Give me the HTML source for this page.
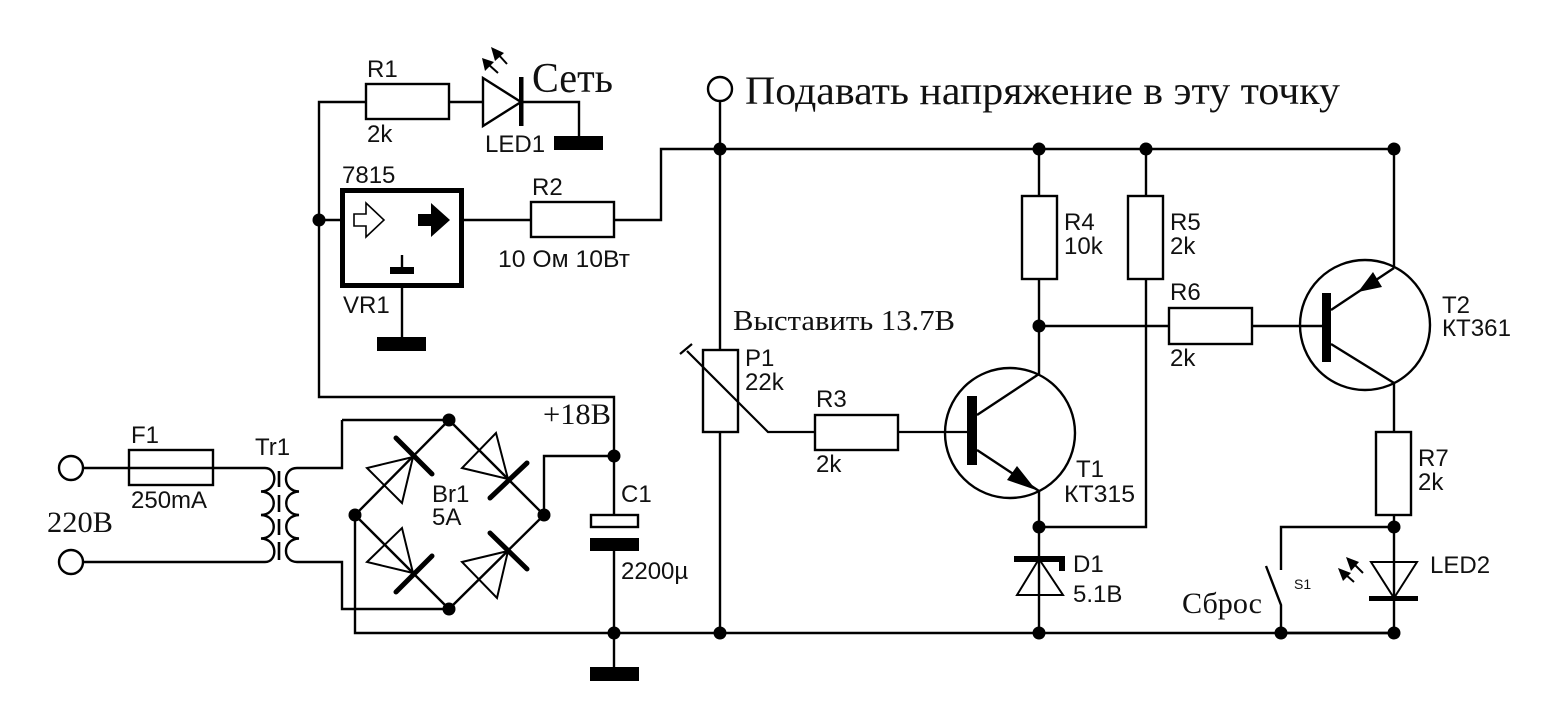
<!DOCTYPE html>
<html><head><meta charset="utf-8"><title>Schematic</title>
<style>
html,body{margin:0;padding:0;background:#fff}
svg{display:block}
.w{fill:none;stroke:#000;stroke-width:2.4}
.s{font-family:"Liberation Sans",sans-serif;font-size:24px;fill:#111}
.r{font-family:"Liberation Serif",serif;fill:#111}
</style></head><body>
<svg width="1560" height="728" viewBox="0 0 1560 728" xmlns="http://www.w3.org/2000/svg">
<rect width="1560" height="728" fill="#fff"/>
<g class="w">
<!-- left power rail -->
<path d="M366 102H319V397H614V456"/>
<path d="M449 102H483M521 102H579V137"/>
<path d="M319 220H343M461 220H531M614 220H661V149H1394V268"/>
<path d="M402 288V337"/>
<rect x="366" y="84" width="83" height="35"/>
<rect x="531" y="202" width="83" height="35"/>
<polygon points="483,78 521,102 483,126"/>
<path d="M402 255V268"/>
<polygon points="354,214 366,214 366,203 384,220 366,237 366,226 354,226" stroke-width="1.6"/>
<!-- input -->
<circle cx="71" cy="468" r="12"/>
<circle cx="71" cy="562" r="12"/>
<path d="M83 468H265C278 468 278 491 261 491.5C278 492 278 514.5 261 515C278 515.5 278 538 261 538.5C278 539 278 562 265 562H83"/>
<path d="M342 420H449M342 420V468H297C282 468 282 491 299 491.5C282 492 282 514.5 299 515C282 515.5 282 538 299 538.5C282 539 282 562 297 562H342V609H449"/>
<rect x="129" y="450" width="84" height="35"/>
<path d="M279 471V487M279 495V512M279 519V535M279 542V560" stroke-width="2.6"/>
<!-- bridge -->
<path d="M449 420L355 515L449 609L544 515L449 420"/>
<path d="M544 515V456H614"/>
<path d="M355 515V633H1394"/>
<polygon points="413,457 367,468 402,503" stroke-width="2"/>
<polygon points="508,479 496,433 462,468" stroke-width="2"/>
<polygon points="413,573 402,528 367,562" stroke-width="2"/>
<polygon points="508,551 462,562 497,598" stroke-width="2"/>
<!-- C1 -->
<path d="M614 456V515M614 551V667"/>
<rect x="591" y="515" width="47" height="12"/>
<!-- P1 -->
<path d="M720 101V350M720 432V633"/>
<circle cx="720" cy="89" r="12"/>
<rect x="703" y="350" width="35" height="82"/>
<path d="M687 351L768 432H815M680 354L692 344M898 432H967" stroke-width="2.2"/>
<rect x="815" y="415" width="83" height="35"/>
<circle cx="1010" cy="433" r="65"/>
<path d="M977 415L1039 374V279M1039 196V149M977 450L1039 491V633"/>
<rect x="1022" y="196" width="35" height="83"/>
<rect x="1128" y="196" width="35" height="83"/>
<path d="M1146 149V196M1146 279V527H1039M1039 326H1169M1252 326H1322"/>
<polygon points="1017,595 1063,595 1039,559" stroke-width="2"/>
<rect x="1169" y="308" width="83" height="36"/>
<circle cx="1365" cy="325" r="65"/>
<path d="M1331 310L1394 268M1331 344L1394 383V432"/>
<rect x="1376" y="432" width="35" height="83"/>
<path d="M1394 515V562M1394 598V633H1281V605L1266 566M1394 527H1281V570"/>
<polygon points="1371,562 1417,562 1394,598" stroke-width="2"/>
<path d="M1394 562V598"/>
<!-- LED arrow shafts -->
<path d="M488 64L498 73M497 53L507 64M1353 563L1363 573M1345 574L1354 582" stroke-width="2"/>
</g>
<!-- filled parts -->
<g fill="#000">
<rect x="519" y="77" width="4.5" height="49"/>
<rect x="554" y="136" width="49" height="14"/>
<rect x="377" y="337" width="49" height="14"/>
<rect x="390" y="267" width="24" height="7"/>
<polygon points="418,214 431,214 431,203 450,220 431,237 431,226 418,226"/>
<polygon points="482,58 494,62 485,71"/>
<polygon points="491,47 504,53 495,61"/>
<polygon points="1346,557 1359,562 1351,571"/>
<polygon points="1338,568 1351,573 1343,581"/>
<rect x="590" y="538" width="49" height="13"/>
<rect x="590" y="667" width="49" height="14"/>
<rect x="967" y="396" width="10" height="69"/>
<rect x="1322" y="293" width="9" height="69"/>
<polygon points="1036,490 1007,480 1017,466"/>
<polygon points="1358,292 1373,272 1382,287"/>
<rect x="1014" y="556" width="51" height="6"/>
<rect x="1059" y="556" width="6" height="15"/>
<rect x="1369" y="596" width="49" height="5"/>
<g>
<circle cx="319" cy="220" r="6.5"/>
<circle cx="449" cy="420" r="6.5"/>
<circle cx="449" cy="609" r="6.5"/>
<circle cx="355" cy="515" r="6.5"/>
<circle cx="544" cy="515" r="6.5"/>
<circle cx="614" cy="456" r="6.5"/>
<circle cx="614" cy="633" r="6.5"/>
<circle cx="720" cy="149" r="6.5"/>
<circle cx="720" cy="633" r="6.5"/>
<circle cx="1039" cy="149" r="6.5"/>
<circle cx="1146" cy="149" r="6.5"/>
<circle cx="1394" cy="149" r="6.5"/>
<circle cx="1039" cy="326" r="6.5"/>
<circle cx="1039" cy="527" r="6.5"/>
<circle cx="1039" cy="633" r="6.5"/>
<circle cx="1394" cy="527" r="6.5"/>
<circle cx="1281" cy="633" r="6.5"/>
<circle cx="1394" cy="633" r="6.5"/>
</g>
</g>
<rect x="342.5" y="190.5" width="119" height="95" fill="none" stroke="#000" stroke-width="5"/>
<g fill="none" stroke="#000" stroke-width="5" stroke-linecap="round">
<path d="M396 438L432 474M527 463L490 498M432 556L396 592M490 533L527 569"/>
</g>
<!-- sans labels -->
<g class="s">
<text x="367" y="77">R1</text>
<text x="367" y="142">2k</text>
<text x="485" y="152">LED1</text>
<text x="342" y="183">7815</text>
<text x="532" y="195">R2</text>
<text x="498" y="267" textLength="132" lengthAdjust="spacingAndGlyphs">10 Ом 10Вт</text>
<text x="343" y="313">VR1</text>
<text x="131" y="443">F1</text>
<text x="131" y="508">250mA</text>
<text x="255" y="455">Tr1</text>
<text x="432" y="502">Br1</text>
<text x="432" y="525">5A</text>
<text x="621" y="502">C1</text>
<text x="621" y="579">2200µ</text>
<text x="745" y="366">P1</text>
<text x="745" y="390">22k</text>
<text x="816" y="407">R3</text>
<text x="816" y="472">2k</text>
<text x="1076" y="477">T1</text>
<text x="1064" y="502" textLength="71" lengthAdjust="spacingAndGlyphs">КТ315</text>
<text x="1073" y="572">D1</text>
<text x="1073" y="602">5.1В</text>
<text x="1064" y="230">R4</text>
<text x="1064" y="254">10k</text>
<text x="1170" y="230">R5</text>
<text x="1170" y="254">2k</text>
<text x="1170" y="300">R6</text>
<text x="1170" y="366">2k</text>
<text x="1442" y="313">T2</text>
<text x="1442" y="336" textLength="69" lengthAdjust="spacingAndGlyphs">КТ361</text>
<text x="1418" y="466">R7</text>
<text x="1418" y="490">2k</text>
<text x="1430" y="573">LED2</text>
<text x="1294" y="589" style="font-size:14px">S1</text>
</g>
<!-- serif labels -->
<g class="r">
<text x="532" y="92" font-size="42" textLength="81" lengthAdjust="spacingAndGlyphs">Сеть</text>
<text x="745" y="104" font-size="40" textLength="595" lengthAdjust="spacingAndGlyphs">Подавать напряжение в эту точку</text>
<text x="733" y="330" font-size="29" textLength="222" lengthAdjust="spacingAndGlyphs">Выставить 13.7В</text>
<text x="543" y="424" font-size="30" textLength="68" lengthAdjust="spacingAndGlyphs">+18В</text>
<text x="47" y="532" font-size="30" textLength="66" lengthAdjust="spacingAndGlyphs">220В</text>
<text x="1182" y="613" font-size="30" textLength="80" lengthAdjust="spacingAndGlyphs">Сброс</text>
</g>
</svg>
</body></html>
